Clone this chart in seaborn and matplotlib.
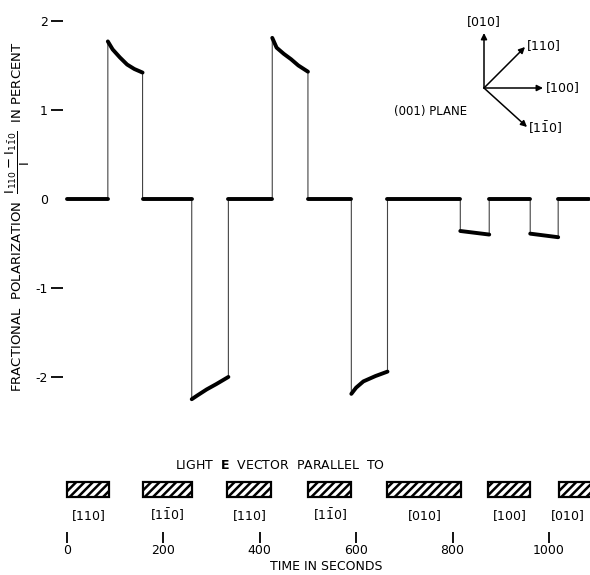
import matplotlib
matplotlib.use("Agg")
import numpy as np
import pandas as pd
import matplotlib.pyplot as plt
import seaborn as sns

sns.set_theme(style="white")
plt.rcParams["font.family"] = ["DejaVu Sans"]
plt.rcParams["mathtext.fontset"] = "dejavusans"
plt.rcParams["axes.unicode_minus"] = False
plt.rcParams["hatch.linewidth"] = 1.8
plt.rcParams["text.color"] = "black"
plt.rcParams["axes.labelcolor"] = "black"

# trace (time in s, polarization in %)
# a repeated time means a jump
trace_t = [0, 85, 85, 95, 110, 125, 140, 157, 157, 259, 259, 270, 290, 310, 335, 335,
           426, 426, 435, 450, 465, 480, 500, 500, 590, 590, 600, 615, 640, 665, 665,
           816, 816, 846, 876, 876, 961, 961, 990, 1019, 1019, 1083]
trace_v = [0.0, 0.0, 1.77, 1.68, 1.59, 1.51, 1.46, 1.42, 0.0, 0.0, -2.25, -2.21, -2.14, -2.08, -2.00, 0.0,
           0.0, 1.81, 1.70, 1.63, 1.57, 1.50, 1.43, 0.0, 0.0, -2.19, -2.12, -2.05, -1.99, -1.94, 0.0,
           0.0, -0.36, -0.38, -0.40, 0.0, 0.0, -0.39, -0.41, -0.43, 0.0, 0.0]

# light E vector orientation periods
bar_start = [0, 157, 333, 501, 665, 874, 1021]
bar_end = [88, 259, 424, 590, 818, 961, 1100]
bar_labels = [r"$[110]$", r"$[1\bar{1}0]$", r"$[110]$", r"$[1\bar{1}0]$",
              r"$[010]$", r"$[100]$", r"$[010]$"]

time_ticks = [0, 200, 400, 600, 800, 1000]
y_ticks = [-2, -1, 0, 1, 2]

W, H = 590, 575
xmin, xmax = -8, 1085


def fpos(x, y):
    # pixel position -> figure fraction
    return (x / W, 1 - y / H)


fig = plt.figure(figsize=(5.9, 5.75), dpi=100)
ax = fig.add_axes([63 / W, 1 - 417 / H, 527 / W, 400.5 / H])
ax2 = fig.add_axes([63 / W, 1 - 532 / H, 527 / W, 62 / H])

df = pd.DataFrame({"t": trace_t, "v": trace_v})
sns.lineplot(data=df, x="t", y="v", sort=False, estimator=None,
             color="#444444", lw=0.8, ax=ax)

# thick parts of the trace (skip the jumps)
seg = [0]
for i in range(1, len(trace_t)):
    if trace_t[i] == trace_t[i - 1]:
        if len(seg) > 1:
            sns.lineplot(x=[trace_t[k] for k in seg], y=[trace_v[k] for k in seg],
                         sort=False, estimator=None, color="black", lw=2.8, ax=ax)
        seg = [i]
    else:
        seg.append(i)
if len(seg) > 1:
    sns.lineplot(x=[trace_t[k] for k in seg], y=[trace_v[k] for k in seg],
                 sort=False, estimator=None, color="black", lw=2.8, ax=ax)

ax.set_xlim(xmin, xmax)
ax.set_ylim(-2.45, 2.05)
for s in ax.spines.values():
    s.set_visible(False)
ax.set_xticks([])
ax.set_yticks(y_ticks)
ax.set_yticklabels([str(v) for v in y_ticks], fontsize=9)
ax.tick_params(axis="y", left=True, length=9, width=1.3, pad=2, colors="black")
ax.yaxis.get_major_ticks()[2].tick1line.set_visible(False)
ax.set_xlabel("")
ax.set_ylabel(r"FRACTIONAL  POLARIZATION  $\dfrac{\mathrm{I}_{110}-\mathrm{I}_{1\bar{1}0}}{\mathrm{I}}$  IN PERCENT",
              fontsize=9.5)
ax.yaxis.set_label_coords(-0.058, 0.5)

# crystal axes inset
origin = fpos(484, 88)
arrows = [((484, 33), r"$[010]$", (483, 22), "center"),
          ((525, 47), r"$[110]$", (526, 46), "left"),
          ((543, 88), r"$[100]$", (545, 88), "left"),
          ((527, 127), r"$[1\bar{1}0]$", (528, 128), "left")]
for tip, lab, lpos, ha in arrows:
    ax.annotate("", xy=fpos(*tip), xytext=origin, xycoords="figure fraction",
                textcoords="figure fraction",
                arrowprops=dict(arrowstyle="-|>", color="black", lw=1.1,
                                mutation_scale=9, shrinkA=0, shrinkB=0))
    fig.text(*fpos(*lpos), lab, ha=ha, va="center", fontsize=9)
fig.text(*fpos(431, 112), "(001) PLANE", ha="center", va="center", fontsize=8.5)

# light vector bars
ax2.barh([0.685] * len(bar_start), [e - s for s, e in zip(bar_start, bar_end)],
         left=bar_start, height=0.24, color="white", edgecolor="black",
         hatch="////", lw=1.6)
for s, e, lab in zip(bar_start, bar_end, bar_labels):
    ax2.text((s + min(e, xmax - 30)) / 2, 0.27, lab, ha="center", va="center", fontsize=9)
ax2.text(0.412, 1.08, r"LIGHT  $\mathbf{E}$  VECTOR  PARALLEL  TO", transform=ax2.transAxes,
         ha="center", va="center", fontsize=9)
ax2.set_xlim(xmin, xmax)
ax2.set_ylim(0, 1)
for s in ax2.spines.values():
    s.set_visible(False)
ax2.set_yticks([])
ax2.set_xticks(time_ticks)
ax2.set_xticklabels([str(v) for v in time_ticks], fontsize=9)
ax2.tick_params(axis="x", bottom=True, length=8, width=1.3, pad=1, colors="black")
ax2.set_xlabel("TIME IN SECONDS", fontsize=9, labelpad=2)

fig.savefig("out.png", dpi=100)
